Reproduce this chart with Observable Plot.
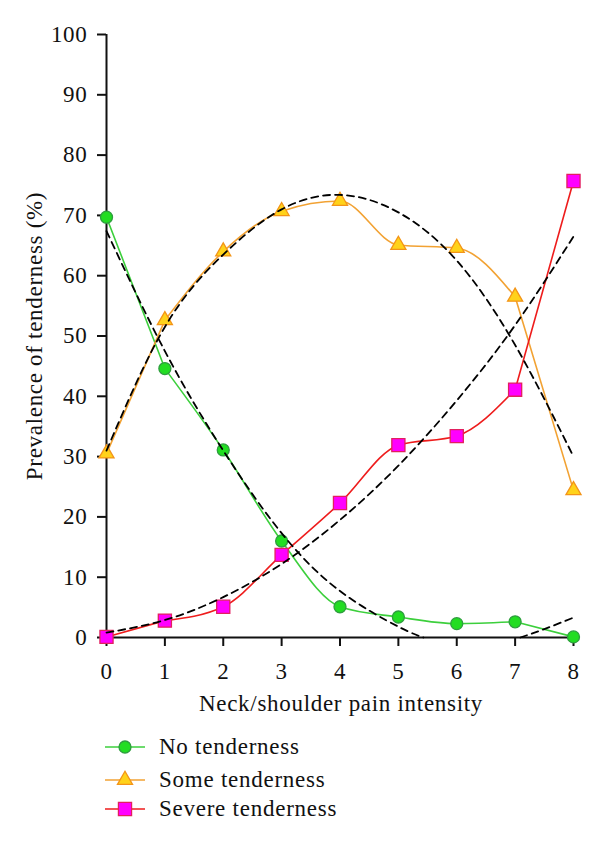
<!DOCTYPE html>
<html><head><meta charset="utf-8">
<script src="https://cdn.jsdelivr.net/npm/d3@7"></script>
<script src="https://cdn.jsdelivr.net/npm/@observablehq/plot@0.6"></script>
<style>
body{margin:0;background:#fff;font-family:"Liberation Serif","Times New Roman",Times,"DejaVu Serif",serif;}
#legend{margin-left:105px;}
.row{display:flex;align-items:center;font-size:23px;color:#111;letter-spacing:0.75px;}
.row svg{width:40px;height:16px;margin-right:14px;overflow:visible;}
</style></head><body>
<div id="chart"></div>
<div id="legend"></div>
<script>
// ---- data ----
const painLevels = [0, 1, 2, 3, 4, 5, 6, 7, 8];
const noTenderness = [69.7, 44.6, 31.1, 16.0, 5.1, 3.4, 2.3, 2.6, 0.1];
const someTenderness = [30.5, 52.6, 64.0, 70.7, 72.4, 65.1, 64.6, 56.5, 24.4];
const severeTenderness = [0.1, 2.8, 5.1, 13.7, 22.3, 31.9, 33.4, 41.1, 75.7];

// dashed trend curves
const fitNoX1 = [0, 1, 2, 3, 4, 5, 5.43];
const fitNoY1 = [67.4, 47.5, 31.0, 17.3, 7.7, 1.8, 0];
const fitNoX2 = [7.09, 7.5, 8];
const fitNoY2 = [0, 1.4, 3.3];
const fitSomeY = [31.0, 51.5, 63.5, 71.0, 73.4, 70.5, 62.5, 48.5, 30.0];
const fitSevereY = [0.8, 2.9, 6.7, 12.2, 19.5, 28.5, 39.3, 51.8, 66.5];

const seriesNames = ["No tenderness", "Some tenderness", "Severe tenderness"];
const xTicks = [0, 1, 2, 3, 4, 5, 6, 7, 8];
const yTicks = [0, 10, 20, 30, 40, 50, 60, 70, 80, 90, 100];
const xTitle = "Neck/shoulder pain intensity";
const yTitle = "Prevalence of tenderness (%)";

const FONT = '"Liberation Serif", "Times New Roman", Times, "DejaVu Serif", serif';

// ---- styles ----
const styles = [
  {line: "#3ccf3c", fill: "#22dd22", stroke: "#2e9e3e", symbol: "circle", r: 6},
  {line: "#f2a233", fill: "#ffd21a", stroke: "#f39418", symbol: "triangle", r: 5.6},
  {line: "#ee1c1c", fill: "#ff00ff", stroke: "#e2205e", symbol: "square", r: 7.4}
];

const toRows = (xs, ys, series) => xs.map((x, i) => ({x, y: ys[i], series}));
const solid = [
  toRows(painLevels, noTenderness, 0),
  toRows(painLevels, someTenderness, 1),
  toRows(painLevels, severeTenderness, 2)
];
const fits = [
  toRows(fitNoX1, fitNoY1, "a"),
  toRows(fitNoX2, fitNoY2, "b"),
  toRows(painLevels, fitSomeY, "c"),
  toRows(painLevels, fitSevereY, "d")
];

const marks = [];
solid.forEach((rows, i) => {
  const st = {x: "x", y: "y", stroke: styles[i].line, strokeWidth: 1.6};
  marks.push(Plot.line(rows.filter(d => d.x <= 1), {...st, curve: "linear"}));
  marks.push(Plot.line(rows.filter(d => d.x >= 1 && d.x <= 7), {...st, curve: "monotone-x"}));
  marks.push(Plot.line(rows.filter(d => d.x >= 7), {...st, curve: "linear"}));
});
solid.forEach((rows, i) => {
  marks.push(Plot.dot(rows, {x: "x", y: "y", symbol: styles[i].symbol, r: styles[i].r,
    fill: styles[i].fill, stroke: styles[i].stroke, strokeWidth: 1.3}));
});
fits.forEach(rows => {
  marks.push(Plot.line(rows, {x: "x", y: "y", stroke: "#000", strokeWidth: 1.8,
    strokeDasharray: "7,5", curve: "natural"}));
});

const chart = Plot.plot({
  width: 600, height: 730,
  marginLeft: 106, marginRight: 27, marginTop: 34, marginBottom: 93,
  style: {fontFamily: FONT, fontSize: "23px", color: "#111", background: "#fff", letterSpacing: "0.7px"},
  x: {domain: [0, 8]},
  y: {domain: [0, 100]},
  marks: [
    Plot.axisX({ticks: xTicks, tickSize: 9, tickPadding: 16, strokeWidth: 2, tickFormat: d => String(d), label: null, fontSize: 23, fontFamily: FONT}),
    Plot.axisY({ticks: yTicks, tickSize: 9, tickPadding: 10, strokeWidth: 2, tickFormat: d => String(d), label: null, fontSize: 23, fontFamily: FONT}),
    Plot.ruleX([0], {stroke: "#111", strokeWidth: 2}),
    Plot.ruleY([0], {stroke: "#111", strokeWidth: 2}),
    ...marks,
    Plot.text([yTitle], {text: d => d, frameAnchor: "left", textAnchor: "middle", lineAnchor: "middle", rotate: -90, dx: -72, fontSize: 23, fontFamily: FONT, fill: "#111"}),
    Plot.text([xTitle], {text: d => d, frameAnchor: "bottom", textAnchor: "middle", lineAnchor: "middle", dy: 66.6, dx: 1, fontSize: 23, fontFamily: FONT, fill: "#111"})
  ]
});
document.getElementById("chart").appendChild(chart);

// ---- legend ----
const rowHeights = [33.4, 33.2, 25.4];
const legend = document.getElementById("legend");
seriesNames.forEach((name, i) => {
  const s = styles[i];
  const row = document.createElement("div");
  row.className = "row";
  row.style.height = rowHeights[i] + "px";
  const ns = "http://www.w3.org/2000/svg";
  const svg = document.createElementNS(ns, "svg");
  svg.setAttribute("viewBox", "0 0 40 16");
  const ln = document.createElementNS(ns, "line");
  ln.setAttribute("x1", 0); ln.setAttribute("x2", 40);
  ln.setAttribute("y1", 8); ln.setAttribute("y2", 8);
  ln.setAttribute("stroke", s.line); ln.setAttribute("stroke-width", 1.6);
  svg.appendChild(ln);
  const sym = document.createElementNS(ns, "path");
  const symType = {circle: d3.symbolCircle, triangle: d3.symbolTriangle, square: d3.symbolSquare}[s.symbol];
  sym.setAttribute("d", d3.symbol(symType, Math.PI * s.r * s.r)());
  sym.setAttribute("transform", "translate(20,8)");
  sym.setAttribute("fill", s.fill); sym.setAttribute("stroke", s.stroke); sym.setAttribute("stroke-width", 1.3);
  svg.appendChild(sym);
  row.appendChild(svg);
  const t = document.createElement("span");
  t.textContent = name;
  row.appendChild(t);
  legend.appendChild(row);
});
</script>
</body></html>
